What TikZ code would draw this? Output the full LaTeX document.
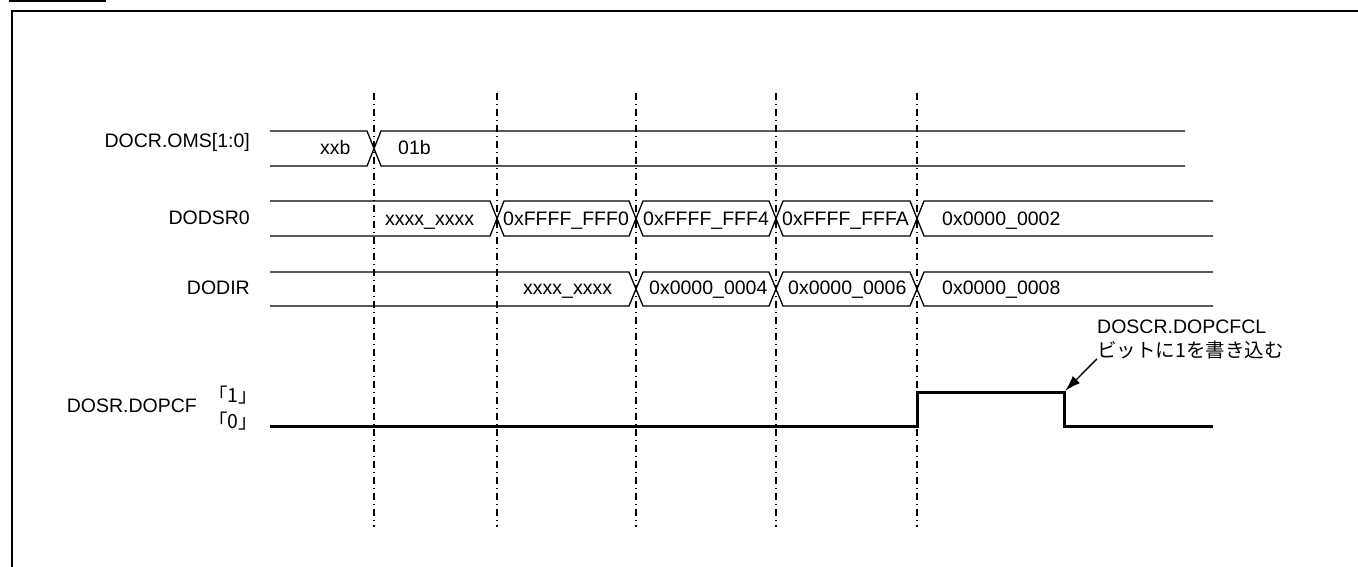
\documentclass[tikz,border=0pt]{standalone}
\usepackage{fontspec}
\setmainfont{Liberation Sans}
\newfontfamily\jpfont{Noto Sans CJK JP}
\usetikzlibrary{arrows.meta}

\begin{document}
\begin{tikzpicture}[x=1pt, y=-1pt, >={Latex[length=16pt,width=10pt]},
  bus/.style={line width=1.3pt},
  lvl/.style={line width=3pt},
  guide/.style={line width=1.4pt, dash pattern=on 7pt off 4pt on 1pt off 4pt},
  sig/.style={anchor=base east, inner sep=0pt, font=\fontsize{19.5}{23}\selectfont},
  val/.style={anchor=base west, inner sep=0pt, font=\fontsize{19.5}{23}\selectfont},
  jp/.style={val, font=\fontsize{19.5}{23}\selectfont\jpfont}]
\useasboundingbox (0,0) rectangle (1358,567);
% frame
\fill (9,0) rectangle (106,2.5);
\draw[line width=2pt] (1358,11) -- (12,11) -- (12,567);
% guides
\foreach \t in {374,497,636,776,917}
  \draw[guide] (\t,93) -- (\t,527);
% signal names
\node[sig] (lOMS) at (250,148) {DOCR.OMS[1:0]};
\node[sig] (lDSR) at (250,224) {DODSR0};
\node[sig] (lDIR) at (250,294) {DODIR};
\node[sig] (lPCF) at (197,412) {DOSR.DOPCF};
\node[jp] (one) at (208,402) {「1」};
\node[jp] (zero) at (208,428) {「0」};
% DOCR.OMS
\draw[bus] (270,131) -- (367,131) -- (381,166) -- (1185,166);
\draw[bus] (270,166) -- (367,166) -- (381,131) -- (1185,131);
\node[val] (oms0) at (320,155) {xxb};
\node[val] (oms1) at (398,155) {01b};
% DODSR0
\draw[bus] (270,201) -- (490,201) -- (504,236) -- (629,236) -- (643,201) -- (769,201)
  -- (783,236) -- (910,236) -- (924,201) -- (1213,201);
\draw[bus] (270,236) -- (490,236) -- (504,201) -- (629,201) -- (643,236) -- (769,236)
  -- (783,201) -- (910,201) -- (924,236) -- (1213,236);
\node[val] (dsr0) at (385,225) {xxxx\_xxxx};
\node[val] (dsr1) at (503,225) {0xFFFF\_FFF0};
\node[val] (dsr2) at (643,225) {0xFFFF\_FFF4};
\node[val] (dsr3) at (782,225) {0xFFFF\_FFFA};
\node[val] (dsr4) at (942,225) {0x0000\_0002};
% DODIR
\draw[bus] (270,272) -- (629,272) -- (643,306) -- (769,306) -- (783,272)
  -- (910,272) -- (924,306) -- (1213,306);
\draw[bus] (270,306) -- (629,306) -- (643,272) -- (769,272) -- (783,306)
  -- (910,306) -- (924,272) -- (1213,272);
\node[val] (dir0) at (523,294) {xxxx\_xxxx};
\node[val] (dir1) at (649,294) {0x0000\_0004};
\node[val] (dir2) at (788,294) {0x0000\_0006};
\node[val] (dir3) at (942,294) {0x0000\_0008};
% DOSR.DOPCF
\draw[lvl] (270,426) -- (917,426) -- (917,392) -- (1064,392) -- (1064,426) -- (1213,426);
\coordinate (clr) at (1065,391);
\node[val] (note1) at (1097,333) {DOSCR.DOPCFCL};
\node[jp] (note2) at (1097,357) {ビットに1を書き込む};
\draw[->, line width=1.3pt] (note2.south west) -- (clr);
\end{tikzpicture}
\end{document}
